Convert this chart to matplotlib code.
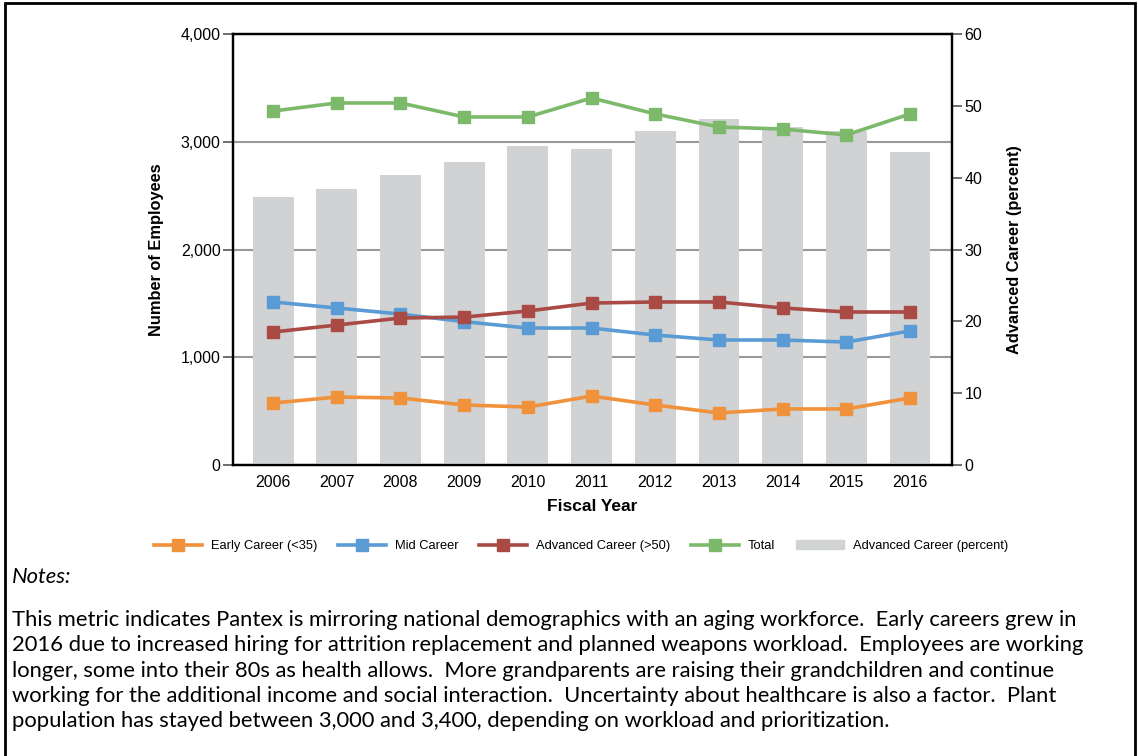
import numpy as np
import matplotlib
matplotlib.use("Agg")
import matplotlib.pyplot as plt
from matplotlib.patches import Rectangle
from matplotlib.lines import Line2D

# data
years = [2006, 2007, 2008, 2009, 2010, 2011, 2012, 2013, 2014, 2015, 2016]
early = [575, 631, 622, 557, 538, 640, 557, 483, 520, 520, 622]
mid = [1513, 1457, 1401, 1330, 1271, 1271, 1206, 1160, 1160, 1141, 1244]
advanced = [1234, 1299, 1364, 1373, 1429, 1503, 1513, 1513, 1457, 1420, 1420]
total = [3285, 3360, 3360, 3230, 3230, 3406, 3258, 3137, 3118, 3063, 3258]
adv_pct = [37.3, 38.4, 40.4, 42.2, 44.4, 44.0, 46.5, 48.2, 47.0, 46.5, 43.6]

notes = ("This metric indicates Pantex is mirroring national demographics with an aging workforce.  Early careers grew in\n"
         "2016 due to increased hiring for attrition replacement and planned weapons workload.  Employees are working\n"
         "longer, some into their 80s as health allows.  More grandparents are raising their grandchildren and continue\n"
         "working for the additional income and social interaction.  Uncertainty about healthcare is also a factor.  Plant\n"
         "population has stayed between 3,000 and 3,400, depending on workload and prioritization.")

plt.rcParams['font.family'] = ['Liberation Sans', 'DejaVu Sans']

c_early = '#F0913B'
c_mid = '#5B9BD5'
c_adv = '#A94A44'
c_tot = '#7DB96A'
c_bar = '#D1D2D4'

fig = plt.figure(figsize=(11.38, 7.56), dpi=100)
pos = [233/1138, 1 - 465/756, (952-233)/1138, (465-34)/756]

# left axis: scale + grid (drawn at the back)
ax = fig.add_axes(pos)
ax.set_ylim(0, 4000)
ax.set_xlim(2005.37, 2016.66)
ax.set_yticks([0, 1000, 2000, 3000, 4000])
ax.set_yticklabels(['0', '1,000', '2,000', '3,000', '4,000'], fontsize=11.5)
ax.set_xticks(years)
ax.set_xticklabels([str(y) for y in years], fontsize=11.5)
ax.tick_params(axis='x', length=0, pad=7)
ax.tick_params(axis='y', length=7, color='#555555', width=1.2, pad=2)
ax.grid(axis='y', color='#999999', linewidth=1.5)
ax.set_axisbelow(True)
for s in ax.spines.values():
    s.set_linewidth(1.6)
ax.set_xlabel('Fiscal Year', fontsize=12.5, fontweight='bold', labelpad=7)
ax.set_ylabel('Number of Employees', fontsize=11.8, fontweight='bold', labelpad=12)

# right axis: percent bars
ax2 = ax.twinx()
ax2.bar(years, adv_pct, width=0.64, color=c_bar, zorder=1)
ax2.set_ylim(0, 60)
ax2.set_yticks(range(0, 61, 10))
ax2.tick_params(axis='y', length=7, color='#555555', width=1.2, labelsize=11.5, pad=2)
ax2.set_ylabel('Advanced Career (percent)', fontsize=11.8, fontweight='bold', labelpad=18)
for s in ax2.spines.values():
    s.set_linewidth(1.6)

# lines on top, same scale as left axis
ax3 = ax.twinx()
ax3.set_ylim(0, 4000)
ax3.axis('off')
kw = dict(marker='s', markersize=9, linewidth=2.6)
ax3.plot(years, early, color=c_early, **kw)
ax3.plot(years, mid, color=c_mid, **kw)
ax3.plot(years, advanced, color=c_adv, **kw)
ax3.plot(years, total, color=c_tot, **kw)

handles = [Line2D([], [], color=c, marker='s', markersize=8, linewidth=2.6)
           for c in [c_early, c_mid, c_adv, c_tot]]
handles.append(Rectangle((0, 0), 1, 1, color=c_bar))
labels = ['Early Career (<35)', 'Mid Career', 'Advanced Career (>50)', 'Total',
          'Advanced Career (percent)']
fig.legend(handles, labels, loc='center', bbox_to_anchor=(581/1138, 1 - 546/756),
           ncol=5, frameon=False, fontsize=9.3, handlelength=3.7, columnspacing=1.6,
           handletextpad=0.7)

# notes block
fig.text(12/1138, 1 - 577/756, 'Notes:', fontsize=15.8, style='italic',
         family=['Lato', 'DejaVu Sans'], va='center')
fig.text(12/1138, 1 - 610/756, notes, fontsize=15.8, family=['Lato', 'DejaVu Sans'],
         va='top', linespacing=1.33)

# outer frame
fig.patches.append(Rectangle((5/1138, -0.01), 1130/1138, 1 - 3/756 + 0.01,
                             transform=fig.transFigure, fill=False,
                             edgecolor='black', linewidth=2))

fig.savefig('out.png', dpi=100)
